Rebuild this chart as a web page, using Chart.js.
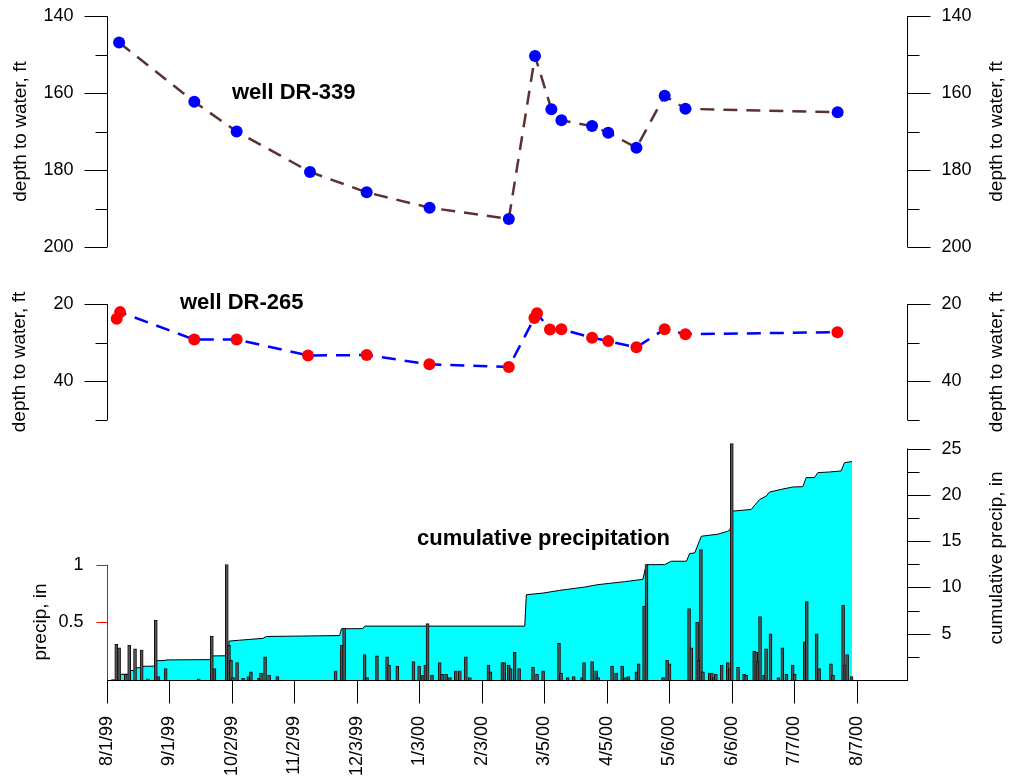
<!DOCTYPE html>
<html>
<head>
<meta charset="utf-8">
<title>Wells DR-339 / DR-265 and precipitation</title>
<script src="https://cdn.jsdelivr.net/npm/chart.js@4.4.1/dist/chart.umd.min.js"></script>
<style>
  html, body { margin: 0; padding: 0; background: #fff; }
  #wrap { position: relative; width: 1009px; height: 777px; }
  #wrap canvas { position: absolute; left: 0; top: 0; }
</style>
</head>
<body>
<div id="wrap">
  <canvas id="precipChart" width="1009" height="777"></canvas>
  <canvas id="dr265Chart" width="1009" height="777"></canvas>
  <canvas id="dr339Chart" width="1009" height="777"></canvas>
</div>
<script>
// x values are days since 8/1/99
const tickDays = [0, 31, 62, 93, 124, 155, 186, 217, 248, 279, 310, 341, 372];
const tickLabels = ['8/1/99', '9/1/99', '10/2/99', '11/2/99', '12/3/99', '1/3/00', '2/3/00',
                    '3/5/00', '4/5/00', '5/6/00', '6/6/00', '7/7/00', '8/7/00'];

// well DR-339, depth to water (ft)
const dr339Days  = [6, 43.3, 64.3, 100.7, 128.8, 160, 199.3, 212.3, 220.4, 225.4, 240.6, 248.6, 262.6, 276.6, 286.9, 362.4];
const dr339Depth = [146.9, 162.3, 170.0, 180.5, 185.8, 189.8, 192.7, 150.4, 164.2, 167.1, 168.6, 170.3, 174.2, 160.7, 164.1, 165.0];
const dr339Ticks = [140, 160, 180, 200];
const dr339Minor = [150, 170, 190];

// well DR-265, depth to water (ft)
const dr265Days  = [4.8, 6.5, 43.3, 64.3, 99.7, 128.8, 159.9, 199.3, 212, 213.3, 219.7, 225.4, 240.6, 248.6, 262.6, 276.6, 286.9, 362.3];
const dr265Depth = [23.8, 22.1, 29.2, 29.2, 33.3, 33.2, 35.6, 36.3, 23.6, 22.4, 26.6, 26.5, 28.7, 29.6, 31.2, 26.5, 27.8, 27.3];
const dr265Ticks = [20, 40];
const dr265Minor = [30, 50];

// daily precipitation (in)
const precipDays = [4.6, 6, 9.3, 11, 13.9, 17.2, 20.3, 24.2, 25.5, 29.1, 45.5, 52, 53.3, 59.4, 60.5, 61.5, 62.5, 64.5,
  67.5, 70.1, 71.4, 75.4, 76.4, 78.4, 80.4, 84.5, 113.4, 116.4, 117.6, 127.8, 129, 133.9, 138.9, 139.9, 144, 152,
  154.8, 156.7, 157.9, 159, 161.2, 165, 166.2, 168.2, 170.1, 173, 175, 178, 180, 189.2, 190.2, 196.1, 197.1, 199.3,
  200.2, 202.2, 204.4, 211.3, 213.3, 216.3, 224.2, 225.2, 228.5, 231.5, 235.6, 236.6, 240.6, 242.6, 243.6, 250.5,
  252.5, 255.5, 257.4, 258.6, 262.6, 263.7, 266.4, 267.6, 275.8, 277.8, 279, 288.7, 289.8, 292.7, 293.7, 294.6,
  295.6, 299, 300, 301, 302, 304.9, 307.9, 308.9, 309.9, 313, 316, 317, 321, 322, 322.9, 323.9, 325.9, 326.9, 329.1,
  333, 335, 337, 340.1, 341.1, 346.1, 347.1, 352, 353.2, 359.1, 360.1, 365.1, 366.1, 367.1, 369.3];
const precipIn = [0.31, 0.28, 0.05, 0.30, 0.27, 0.26, 0.01, 0.52, 0.03, 0.10, 0.01, 0.38, 0.10, 1.0, 0.30, 0.17, 0.02, 0.15,
  0.015, 0.03, 0.07, 0.015, 0.06, 0.20, 0.04, 0.03, 0.08, 0.30, 0.45, 0.22, 0.02, 0.21, 0.20, 0.13, 0.12, 0.16,
  0.12, 0.04, 0.13, 0.49, 0.04, 0.15, 0.05, 0.05, 0.02, 0.08, 0.08, 0.20, 0.02, 0.13, 0.07, 0.15, 0.15, 0.13,
  0.10, 0.24, 0.10, 0.11, 0.05, 0.08, 0.32, 0.06, 0.02, 0.03, 0.02, 0.15, 0.16, 0.08, 0.02, 0.12,
  0.06, 0.12, 0.02, 0.03, 0.07, 0.14, 0.64, 1.0, 0.02, 0.17, 0.14, 0.62, 0.28, 0.50, 0.17, 1.13,
  0.07, 0.06, 0.06, 0.02, 0.05, 0.13, 0.15, 0.10, 2.05, 0.11, 0.05, 0.04, 0.25, 0.24, 0.16, 0.55, 0.04, 0.27, 0.40,
  0.02, 0.28, 0.05, 0.13, 0.05, 0.33, 0.68, 0.40, 0.10, 0.14, 0.04, 0.65, 0.13, 0.22, 0.03];
const precipTicks = [0.5, 1];

// cumulative precipitation (in)
const cumDays = [2, 6.3, 6.6, 10.7, 10.9, 13.7, 13.9, 17.7, 17.9, 23.5, 23.7, 29, 29.1, 51.6, 51.8, 60.3, 60.5, 65.8,
  77.4, 79, 115.4, 116.3, 126.9, 127.8, 207.2, 208, 216.3, 224.5, 236.9, 243.5, 256.7, 265.8, 267.5, 276.6, 279.9,
  287.4, 289, 291.5, 294.8, 303, 308, 309.1, 310.1, 319.5, 323.7, 327, 328.6, 334.4, 340.2, 345.1, 346.8, 350.9,
  352.6, 358.4, 364.1, 365.8, 369.5];
const cumIn = [0, 0.04, 0.61, 0.63, 1.01, 1.05, 1.30, 1.35, 1.48, 1.50, 2.09, 2.10, 2.17, 2.20, 2.60, 2.62, 4.20, 4.30,
  4.50, 4.70, 4.80, 5.53, 5.55, 5.82, 5.82, 9.21, 9.39, 9.68, 10.04, 10.30, 10.62, 10.87, 12.46, 12.46, 12.83,
  12.83, 13.66, 13.73, 15.53, 15.75, 16.08, 16.26, 18.24, 18.42, 19.50, 19.87, 20.30, 20.59, 20.85, 20.88, 21.86, 21.86,
  22.40, 22.47, 22.58, 23.48, 23.59];
const cumTicks = [5, 10, 15, 20, 25];
const cumMinor = [2.5, 7.5, 12.5, 17.5, 22.5];

const X_MAX = 397.3;
const FONT = '"Liberation Sans", Arial, Helvetica, sans-serif';

function xy(xs, ys) {
    return xs.map((x, i) => ({ x: x, y: ys[i] }));
}

function crisp(v) {
    return Math.round(v) + 0.5;
}

// axes, ticks and texts drawn R-style around the plot area
const framePlugin = {
    id: 'frame',
    afterDraw(chart, args, opts) {
        const ctx = chart.ctx;
        const area = chart.chartArea;
        ctx.save();
        ctx.lineWidth = 1;
        ctx.font = '18px ' + FONT;
        ctx.fillStyle = '#000';

        (opts.axes || []).forEach(a => {
            const s = chart.scales[a.scale];
            const x = crisp(a.side === 'left' ? area.left : area.right) - (a.side === 'left' ? 0 : 1);
            const dir = a.side === 'left' ? -1 : 1;
            ctx.strokeStyle = a.color || '#000';
            ctx.beginPath();
            ctx.moveTo(x, s.getPixelForValue(a.from));
            ctx.lineTo(x, s.getPixelForValue(a.to));
            a.major.forEach(v => {
                const y = crisp(s.getPixelForValue(v));
                ctx.moveTo(x, y);
                ctx.lineTo(x + dir * a.len, y);
            });
            (a.minor || []).forEach(v => {
                const y = crisp(s.getPixelForValue(v));
                ctx.moveTo(x, y);
                ctx.lineTo(x + dir * 12, y);
            });
            ctx.stroke();
            ctx.textAlign = dir < 0 ? 'right' : 'left';
            ctx.textBaseline = 'middle';
            a.major.forEach(v => {
                ctx.fillText(String(v), x + dir * (a.len + a.gap), s.getPixelForValue(v));
            });
        });

        if (opts.dateAxis) {
            const xs = chart.scales.x;
            const yb = crisp(area.bottom);
            ctx.strokeStyle = '#000';
            ctx.beginPath();
            ctx.moveTo(area.left, yb);
            ctx.lineTo(area.right, yb);
            tickDays.forEach(d => {
                const x = crisp(xs.getPixelForValue(d));
                ctx.moveTo(x, yb);
                ctx.lineTo(x, yb + 23);
            });
            ctx.stroke();
            tickDays.forEach((d, i) => {
                ctx.save();
                ctx.translate(xs.getPixelForValue(d), yb + 35.5);
                ctx.rotate(-Math.PI / 2);
                ctx.textAlign = 'right';
                ctx.textBaseline = 'middle';
                ctx.fillText(tickLabels[i], 0, 0);
                ctx.restore();
            });
        }

        (opts.texts || []).forEach(t => {
            ctx.save();
            ctx.font = t.bold ? 'bold 22px ' + FONT : '19px ' + FONT;
            ctx.translate(t.x, t.y);
            if (!t.bold) ctx.rotate(-Math.PI / 2);
            ctx.textAlign = t.bold ? 'left' : 'center';
            ctx.textBaseline = t.bold ? 'alphabetic' : 'middle';
            ctx.fillText(t.text, 0, 0);
            ctx.restore();
        });
        ctx.restore();
    }
};

function baseOptions(top, bottom, yScales, frame) {
    return {
        responsive: false,
        animation: false,
        events: [],
        layout: { padding: { left: 107, right: 101, top: top, bottom: bottom } },
        plugins: { legend: { display: false }, tooltip: { enabled: false }, frame: frame },
        scales: Object.assign({
            x: { type: 'linear', min: 0, max: X_MAX, display: false, offset: false }
        }, yScales)
    };
}

function wellDataset(days, depth, lineColor, pointColor) {
    return {
        data: xy(days, depth),
        borderColor: lineColor,
        borderWidth: 2.5,
        borderDash: [14, 9],
        pointRadius: 6,
        pointBorderWidth: 0,
        pointBackgroundColor: pointColor,
        tension: 0,
        clip: false
    };
}

// top panel: well DR-339
new Chart(document.getElementById('dr339Chart'), {
    type: 'line',
    data: { datasets: [wellDataset(dr339Days, dr339Depth, '#5a3232', '#0000ff')] },
    options: baseOptions(16, 530,
        { y: { min: 140, max: 200, reverse: true, display: false } },
        {
            axes: [
                { scale: 'y', side: 'left', from: 140, to: 200, major: dr339Ticks, minor: dr339Minor, len: 23, gap: 11 },
                { scale: 'y', side: 'right', from: 140, to: 200, major: dr339Ticks, minor: dr339Minor, len: 23, gap: 11 }
            ],
            texts: [
                { text: 'depth to water, ft', x: 21, y: 131.5 },
                { text: 'depth to water, ft', x: 997, y: 131.5 },
                { text: 'well DR-339', x: 232, y: 99, bold: true }
            ]
        }),
    plugins: [framePlugin]
});

// middle panel: well DR-265
new Chart(document.getElementById('dr265Chart'), {
    type: 'line',
    data: { datasets: [wellDataset(dr265Days, dr265Depth, '#0000ff', '#ff0000')] },
    options: baseOptions(304, 357,
        { y: { min: 20, max: 50, reverse: true, display: false } },
        {
            axes: [
                { scale: 'y', side: 'left', from: 20, to: 50, major: dr265Ticks, minor: dr265Minor, len: 23, gap: 11 },
                { scale: 'y', side: 'right', from: 20, to: 50, major: dr265Ticks, minor: dr265Minor, len: 23, gap: 11 }
            ],
            texts: [
                { text: 'depth to water, ft', x: 20, y: 362 },
                { text: 'depth to water, ft', x: 997, y: 362 },
                { text: 'well DR-265', x: 180, y: 309, bold: true }
            ]
        }),
    plugins: [framePlugin]
});

// bottom panel: daily and cumulative precipitation
new Chart(document.getElementById('precipChart'), {
    type: 'bar',
    data: {
        datasets: [
            {
                type: 'line',
                data: xy(cumDays, cumIn),
                yAxisID: 'y2',
                order: 2,
                borderColor: '#000',
                borderWidth: 1,
                backgroundColor: '#00ffff',
                fill: 'origin',
                pointRadius: 0,
                tension: 0
            },
            {
                type: 'bar',
                data: xy(precipDays, precipIn),
                yAxisID: 'y',
                order: 1,
                barThickness: 3,
                backgroundColor: '#555555',
                borderColor: '#111111',
                borderWidth: 1
            }
        ]
    },
    options: baseOptions(443, 97,
        {
            y: { min: 0, max: 2.055, display: false },
            y2: { min: 0, max: 25.6, display: false, position: 'right' }
        },
        {
            axes: [
                { scale: 'y', side: 'left', from: 0, to: 1, major: precipTicks, len: 11, gap: 13, color: '#ff0000' },
                { scale: 'y2', side: 'right', from: 0, to: 25, major: cumTicks, minor: cumMinor, len: 23, gap: 11 }
            ],
            dateAxis: true,
            texts: [
                { text: 'precip, in', x: 41, y: 622 },
                { text: 'cumulative precip, in', x: 997, y: 558 },
                { text: 'cumulative precipitation', x: 417, y: 545, bold: true }
            ]
        }),
    plugins: [framePlugin]
});
</script>
</body>
</html>
